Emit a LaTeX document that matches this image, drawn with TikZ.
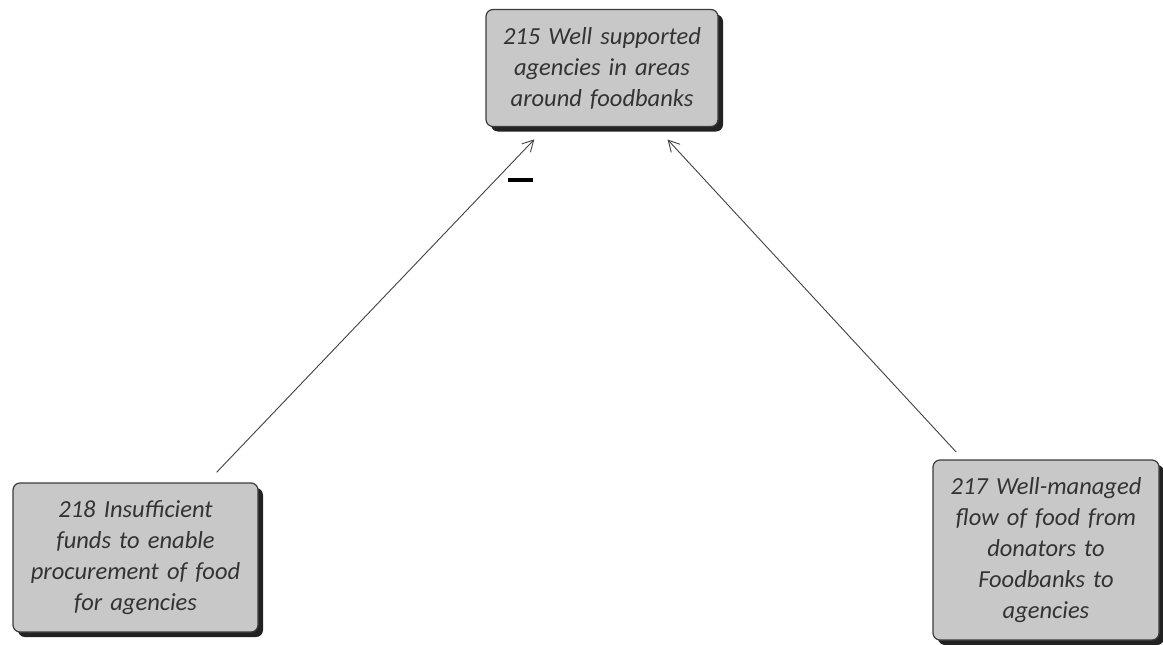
\documentclass[tikz,border=0pt]{standalone}
\usepackage{fontspec}
\setmainfont{Carlito}
\usetikzlibrary{arrows.meta,shadows}
\definecolor{boxfill}{HTML}{C8C8C8}
\definecolor{boxline}{HTML}{3C3C3C}
\definecolor{shadowc}{HTML}{222222}
\tikzset{
  factor/.style={draw=boxline, line width=1.2pt, fill=boxfill, rounded corners=7pt,
    drop shadow={shadow xshift=5pt, shadow yshift=-5pt, fill=shadowc, opacity=1},
    align=center, inner sep=2pt,
    font=\itshape\fontsize{24.5}{31}\selectfont, text=black!80},
  link/.style={draw=black!75, line width=0.9pt, -{Straight Barb[length=11pt,width=12pt]}},
}
\begin{document}
\begin{tikzpicture}[x=1pt,y=-1pt]
\useasboundingbox (0,0) rectangle (1163,645);
\node[factor, minimum width=232pt, minimum height=117pt, text width=228pt] (n215) at (602,68)
  {215 Well supported\\agencies in areas\\around foodbanks};
\node[factor, minimum width=245pt, minimum height=149pt, text width=240pt] (n218) at (135.5,557.5)
  {218 Insufficient\\funds to enable\\procurement of food\\for agencies};
\node[factor, minimum width=226pt, minimum height=180pt, text width=222pt] (n217) at (1046,550)
  {217 Well-managed\\flow of food from\\donators to\\Foodbanks to\\agencies};
\draw[link, shorten <=14pt, shorten >=17pt] (n218) -- (n215);
\draw[link, shorten <=10pt, shorten >=17pt] (n217) -- (n215);
\node[fill=black, minimum width=25pt, minimum height=4pt, inner sep=0pt] (minus) at (520.5,180) {};
\end{tikzpicture}
\end{document}
